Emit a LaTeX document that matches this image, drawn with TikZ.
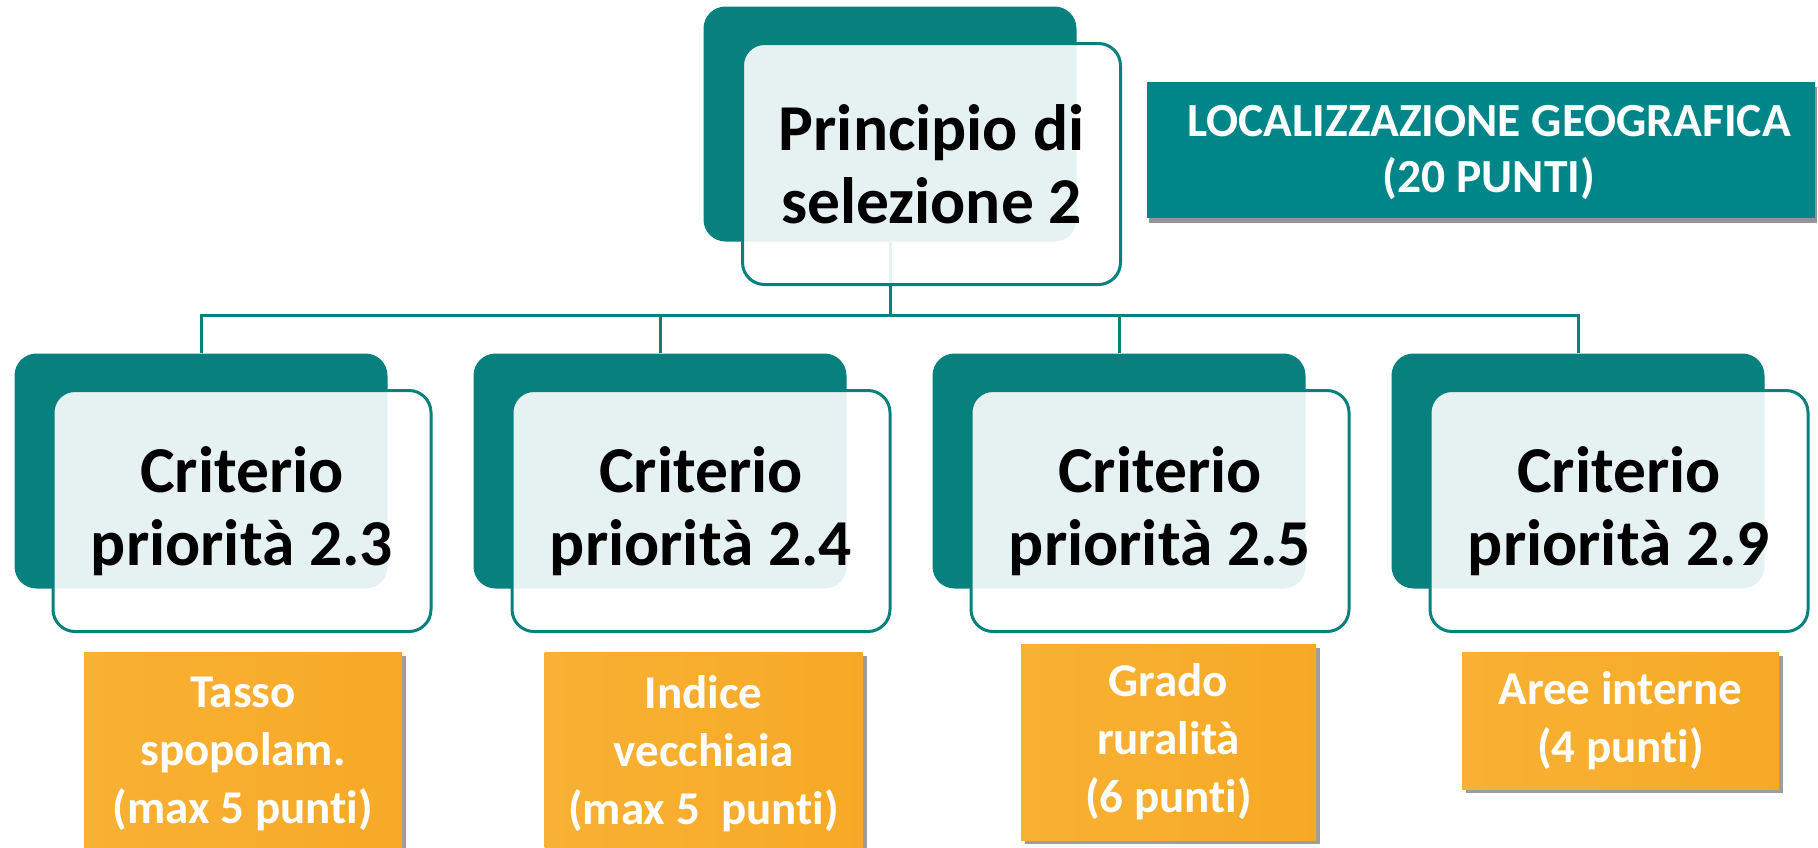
\documentclass[tikz,border=0pt]{standalone}
\usepackage{fontspec}
\setmainfont{Carlito}[Ligatures={NoCommon}]
\usetikzlibrary{shadows}
\definecolor{tealdark}{RGB}{8,128,125}
\definecolor{tealhead}{RGB}{0,134,136}
\definecolor{orA}{RGB}{248,177,52}
\definecolor{orB}{RGB}{247,169,38}
\begin{document}
\begin{tikzpicture}[x=1pt,y=-1pt,
  backbox/.style={draw=none,fill=tealdark,rounded corners=22pt,minimum width=373pt,minimum height=235pt,inner sep=0pt},
  frontbox/.style={draw=tealdark,line width=3pt,fill=white,fill opacity=0.9,text opacity=1,rounded corners=22pt,
     minimum width=378pt,minimum height=241pt,inner sep=0pt,align=center,font=\bfseries\fontsize{65.5}{73}\selectfont},
  conn/.style={draw=tealdark,line width=3pt},
  orbox/.style={left color=orA,right color=orB,draw=none,inner sep=0pt,align=center,text=white,
     font=\bfseries\fontsize{47}{58}\selectfont,
     drop shadow={shadow xshift=4pt,shadow yshift=-4pt,opacity=0.55,fill=black!70}},
  hdrbox/.style={fill=tealhead,draw=none,inner sep=0pt,
     drop shadow={shadow xshift=2pt,shadow yshift=-5pt,opacity=0.6,fill=black!70}},
  hdrtext/.style={text=white,align=center,inner sep=0pt,font=\bfseries\fontsize{47.5}{56}\selectfont}
]
\useasboundingbox (0,0) rectangle (1818,847);
\coordinate (bus) at (0,315);
% back boxes
\node[backbox] (pb) at (890,124) {};
\node[backbox] (c1b) at (201,471) {};
\node[backbox] (c2b) at (660,471) {};
\node[backbox] (c3b) at (1119,471) {};
\node[backbox] (c4b) at (1578,471) {};
% connectors
\draw[conn] (pb.south) -- (pb.south |- bus) -| (c1b.north);
\draw[conn] (pb.south) -- (pb.south |- bus) -| (c2b.north);
\draw[conn] (pb.south) -- (pb.south |- bus) -| (c3b.north);
\draw[conn] (pb.south) -- (pb.south |- bus) -| (c4b.north);
% front boxes
\node[frontbox] (p) at (931.5,164) {Principio di\\selezione 2};
\node[frontbox] (c1) at (242,511) {Criterio\\priorità 2.3};
\node[frontbox] (c2) at (701,511) {Criterio\\priorità 2.4};
\node[frontbox] (c3) at (1160,511) {Criterio\\priorità 2.5};
\node[frontbox] (c4) at (1619,511) {Criterio\\priorità 2.9};
% header
\node[hdrbox,minimum width=668pt,minimum height=136pt,anchor=north west] (hb) at (1147,82) {};
\node[hdrtext] (ht) at (1489,153) {LOCALIZZAZIONE GEOGRAFICA\\(20 PUNTI)};
% orange boxes
\node[orbox,minimum width=318pt,minimum height=204pt] (o1) at (243,754) {Tasso\\spopolam.\\(max 5 punti)};
\node[orbox,minimum width=318pt,minimum height=204pt] (o2) at (703.5,754) {Indice\\vecchiaia\\(max 5~ punti)};
\node[orbox,minimum width=295pt,minimum height=196pt] (o3) at (1168.5,742) {Grado\\ruralità\\(6 punti)};
\node[orbox,minimum width=317pt,minimum height=137pt] (o4) at (1620.5,720.5) {Aree interne\\(4 punti)};
\end{tikzpicture}
\end{document}
